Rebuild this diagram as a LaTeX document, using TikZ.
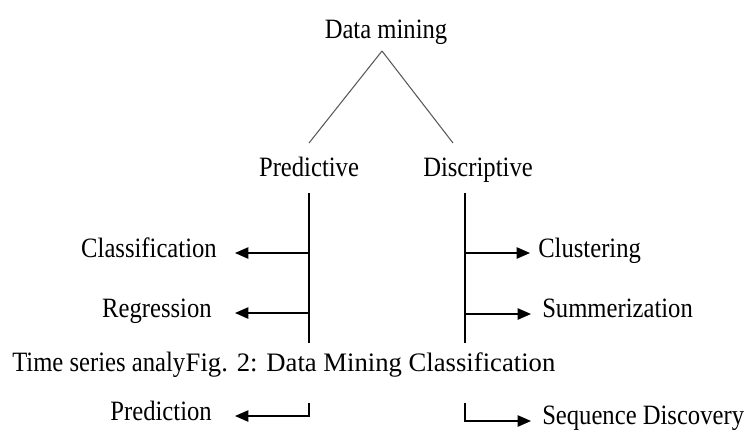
\documentclass[tikz,border=0pt]{standalone}
\usepackage{fontspec}
\setmainfont{Liberation Serif}
\newfontfamily\condensed{Liberation Serif}[FakeStretch=0.88]
\usetikzlibrary{arrows.meta}

\begin{document}
\begin{tikzpicture}[
  x=0.75pt, y=-0.75pt,
  lbl/.style={inner sep=0pt, font=\condensed\fontsize{21}{25}\selectfont},
  captext/.style={inner sep=0pt, font=\fontsize{20}{24}\selectfont},
  branch/.style={draw=black!65, line width=0.8pt},
  trunk/.style={line width=1.1pt},
  arrow/.style={-{Triangle[length=10pt,width=8.5pt]}, line width=1.1pt}
]
\useasboundingbox (0,0) rectangle (746,433);

% top of the tree
\node[lbl, anchor=base] (root) at (386,38) {Data mining};
\node[lbl, anchor=base] (pred) at (309,176) {Predictive};
\node[lbl, anchor=base] (desc) at (478,176) {Discriptive};
\coordinate (apex) at (382,51);
\coordinate (predtop) at (309,143);
\coordinate (desctop) at (453,143);
\draw[branch] (apex) -- (predtop);
\draw[branch] (apex) -- (desctop);

% the two trunks
\coordinate (ptrunk) at (309,193);
\coordinate (pend) at (309,343);
\coordinate (dtrunk) at (465,193);
\coordinate (dend) at (465,343);
\draw[trunk] (ptrunk) -- (pend);
\draw[trunk] (dtrunk) -- (dend);

% leaves
\node[lbl, anchor=base east] (cls) at (217,257) {Classification};
\node[lbl, anchor=base east] (reg) at (212,317) {Regression};
\node[lbl, anchor=base east] (prd) at (212,420) {Prediction};
\node[lbl, anchor=base west] (clu) at (538,257) {Clustering};
\node[lbl, anchor=base west] (sum) at (542,317) {Summerization};
\node[lbl, anchor=base west] (seq) at (542,424) {Sequence Discovery};

% caption runs over the last leaf
\node[lbl, anchor=base west] (tsa) at (12,371) {Time series analy};
\node[captext, anchor=base west] (fig) at (tsa.base east) {Fig. 2: Data Mining Classification};

% arrows
\coordinate (clstip) at (235,253);
\coordinate (regtip) at (235,313);
\coordinate (prdtip) at (235,416);
\coordinate (clutip) at (530,253);
\coordinate (sumtip) at (531,314);
\coordinate (seqtip) at (531,421);
\coordinate (ptail) at (309,403);
\coordinate (dtail) at (465,403);
\draw[arrow] (ptrunk |- clstip) -- (clstip);
\draw[arrow] (ptrunk |- regtip) -- (regtip);
\draw[arrow] (dtrunk |- clutip) -- (clutip);
\draw[arrow] (dtrunk |- sumtip) -- (sumtip);
\draw[arrow] (ptail) |- (prdtip);
\draw[arrow] (dtail) |- (seqtip);
\end{tikzpicture}
\end{document}
